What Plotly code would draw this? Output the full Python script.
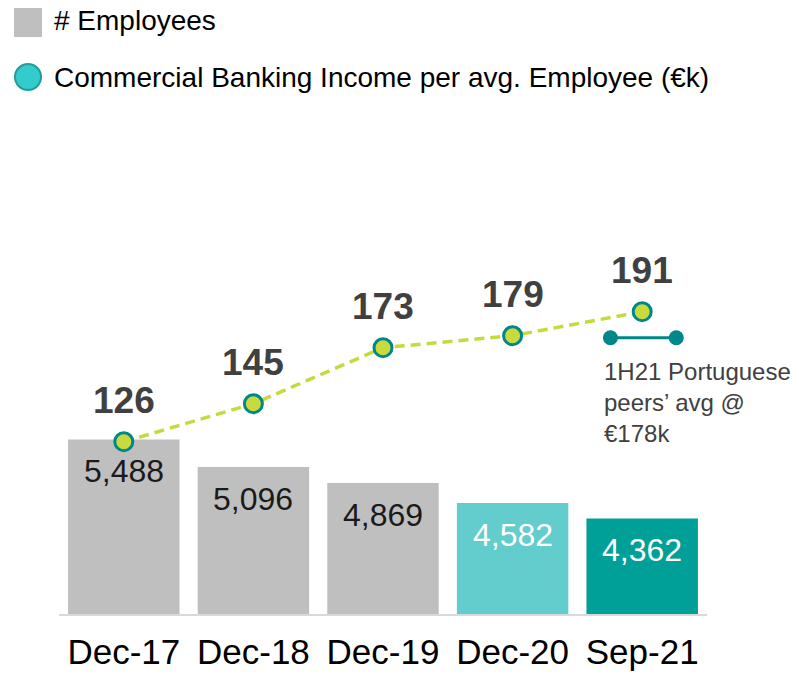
import plotly.graph_objects as go

# data
periods = ["Dec-17", "Dec-18", "Dec-19", "Dec-20", "Sep-21"]
employees = [5488, 5096, 4869, 4582, 4362]
income_per_employee = [126, 145, 173, 179, 191]
peers_avg = 178
peers_label = "1H21 Portuguese<br>peers’ avg @<br>€178k"

bar_colors = ["#BFBFBF", "#BFBFBF", "#BFBFBF", "#63CDCD", "#009F98"]
bar_text_colors = ["#1A1A1A", "#1A1A1A", "#1A1A1A", "#FFFFFF", "#FFFFFF"]

FONT = "Liberation Sans, Arial, sans-serif"
W, H = 799, 676
L, R, T, B = 59, 92, 110, 62
PW, PH = W - L - R, H - T - B


def px_x(px):
    # page pixel -> paper coordinate (horizontal)
    return (px - L) / PW


def px_y(py):
    return (H - B - py) / PH


xs = list(range(len(periods)))

fig = go.Figure()

fig.add_trace(go.Bar(
    x=xs, y=employees, width=0.86,
    marker=dict(color=bar_colors, line=dict(width=0)),
    yaxis="y", showlegend=False, hoverinfo="skip",
))

fig.add_trace(go.Scatter(
    x=xs, y=income_per_employee, mode="lines+markers",
    line=dict(color="#C5DA3C", width=3.5, dash="10px,6px"),
    marker=dict(size=18, color="#C8DA3E", line=dict(color="#00878A", width=3)),
    yaxis="y2", showlegend=False, hoverinfo="skip",
))

# peers' average marker next to the last point
peer_x = [xs[-1] - 0.245, xs[-1] + 0.263]
fig.add_trace(go.Scatter(
    x=peer_x, y=[peers_avg, peers_avg], mode="lines+markers",
    line=dict(color="#00878A", width=3),
    marker=dict(size=15, color="#00878A"),
    yaxis="y2", showlegend=False, hoverinfo="skip",
))

annotations = []
for x, v, c in zip(xs, employees, bar_text_colors):
    annotations.append(dict(
        x=x, y=v, xref="x", yref="y", text=f"{v:,}", showarrow=False,
        yanchor="middle", yshift=-32,
        font=dict(family=FONT, size=32, color=c),
    ))
for x, v in zip(xs, income_per_employee):
    annotations.append(dict(
        x=x, y=v, xref="x", yref="y2", text=f"<b>{v}</b>", showarrow=False,
        yanchor="middle", yshift=41,
        font=dict(family=FONT, size=37, color="#404040"),
    ))
annotations.append(dict(
    x=xs[-1] - 0.314, y=peers_avg, xref="x", yref="y2", text=peers_label,
    showarrow=False, xanchor="left", yanchor="top", yshift=-18, align="left",
    font=dict(family=FONT, size=24, color="#404040"),
))

# legend drawn by hand
annotations.append(dict(
    x=px_x(52), y=px_y(21), xref="paper", yref="paper", text="# Employees",
    showarrow=False, xanchor="left", yanchor="middle",
    font=dict(family=FONT, size=28, color="#000000"),
))
annotations.append(dict(
    x=px_x(52), y=px_y(77), xref="paper", yref="paper",
    text="Commercial Banking Income per avg. Employee (€k)",
    showarrow=False, xanchor="left", yanchor="middle",
    font=dict(family=FONT, size=28, color="#000000"),
))

shapes = [
    dict(type="rect", xref="paper", yref="paper",
         x0=px_x(14), x1=px_x(42), y0=px_y(37), y1=px_y(8),
         fillcolor="#BFBFBF", line=dict(width=0)),
    dict(type="circle", xref="paper", yref="paper",
         x0=px_x(15), x1=px_x(41), y0=px_y(90), y1=px_y(64),
         fillcolor="#33CCCC", line=dict(color="#239A98", width=2)),
]

fig.update_layout(
    width=W, height=H,
    margin=dict(l=L, r=R, t=T, b=B),
    paper_bgcolor="white", plot_bgcolor="white",
    font=dict(family=FONT),
    xaxis=dict(
        range=[-0.5, len(periods) - 0.5], tickmode="array", tickvals=xs, ticktext=periods,
        showgrid=False, zeroline=False, showline=True, linecolor="#D9D9D9", linewidth=2,
        ticks="outside", ticklen=6, tickcolor="rgba(0,0,0,0)", automargin=False,
        tickfont=dict(family=FONT, size=35, color="#000000"),
    ),
    yaxis=dict(range=[3000, 10184], visible=False, fixedrange=True),
    yaxis2=dict(range=[39.85, 291.85], overlaying="y", visible=False),
    annotations=annotations,
    shapes=shapes,
)

# drop the default body margin so the figure sits at the window's corner
fig.write_html(
    "out.html",
    config={"displayModeBar": False},
    post_script="document.body.style.margin='0';document.body.style.overflow='hidden';",
)
